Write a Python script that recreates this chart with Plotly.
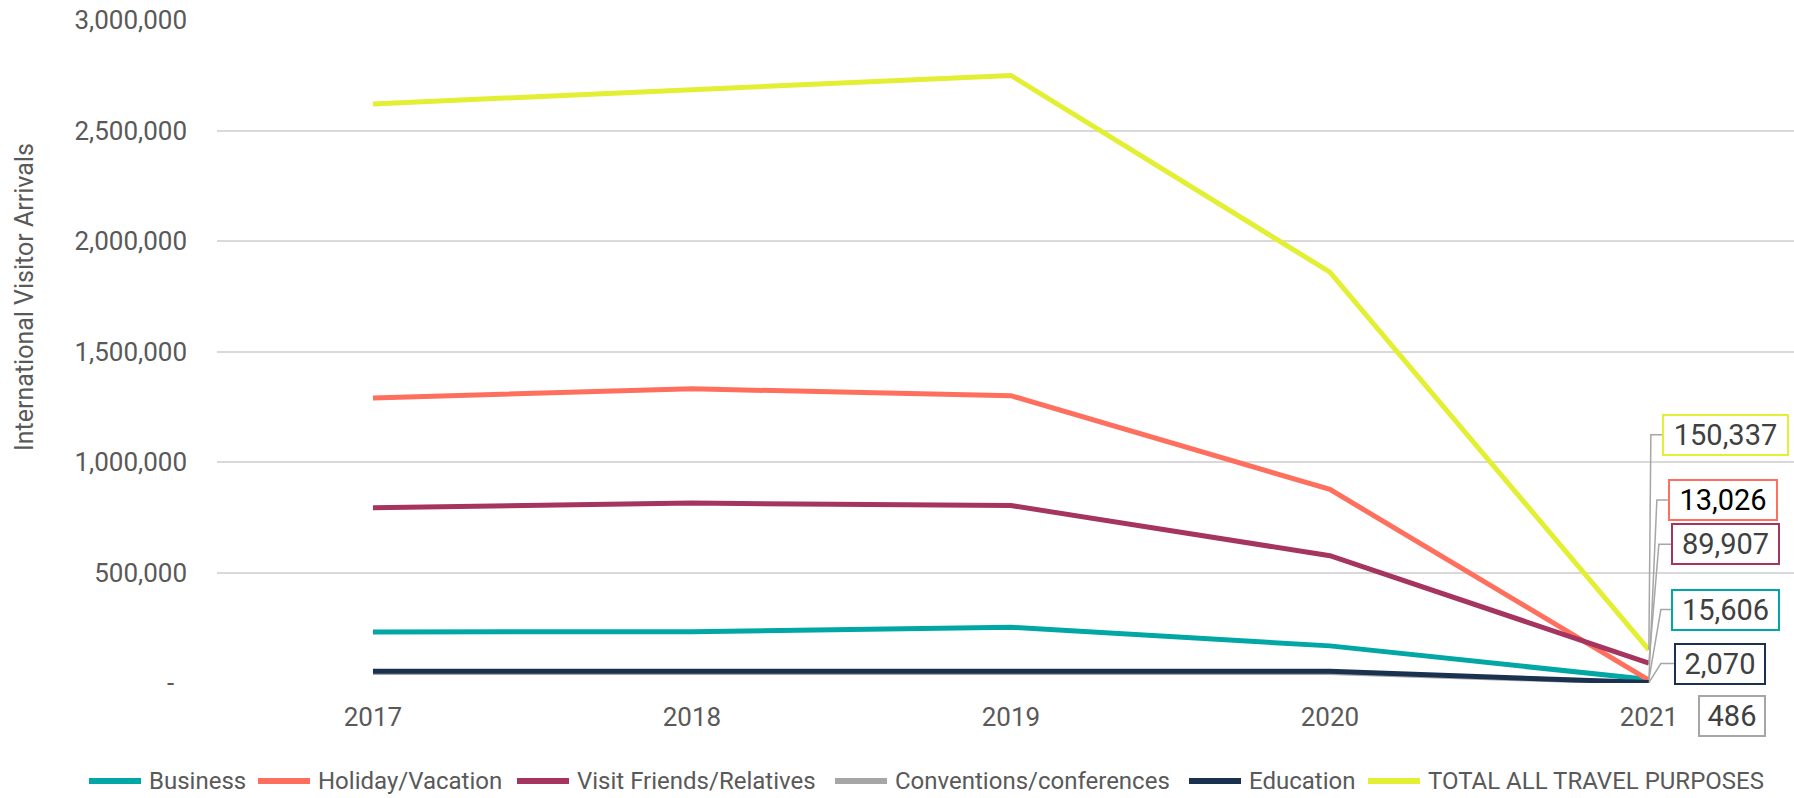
import plotly.graph_objects as go

# Visitor arrivals by travel purpose
years = ["2017", "2018", "2019", "2020", "2021"]
business = [231000, 232000, 252000, 168000, 15606]
holiday = [1290000, 1331000, 1300000, 876000, 13026]
visit_friends = [793000, 814000, 803000, 576000, 89907]
conventions = [47000, 48000, 50000, 47000, 486]
education = [53000, 54000, 56000, 53000, 2070]
total = [2620000, 2687000, 2749000, 1859000, 150337]

series_names = ["Business", "Holiday/Vacation", "Visit Friends/Relatives",
                "Conventions/conferences", "Education", "TOTAL ALL TRAVEL PURPOSES"]
series_values = [business, holiday, visit_friends, conventions, education, total]
series_colors = ["#00A7A5", "#FF6F5E", "#A5345F", "#A6A6A6", "#1B3150", "#E2EF32"]

y_ticks = [0, 500000, 1000000, 1500000, 2000000, 2500000, 3000000]
y_tick_text = ["-\u00a0\u00a0", "500,000", "1,000,000", "1,500,000",
               "2,000,000", "2,500,000", "3,000,000"]

FONT = "Roboto"
GREY_TEXT = "#595959"
LEADER = "#A6A6A6"

W, H = 1794, 798
ML, MR, MT, MB = 217, 0, 20, 115
PW, PH = W - ML - MR, H - MT - MB


def px_to_paper_x(px):
    return (px - ML) / PW


def px_to_paper_y(py):
    return (H - MB - py) / PH


fig = go.Figure()
for name, vals, col in zip(series_names, series_values, series_colors):
    fig.add_trace(go.Scatter(
        x=years, y=vals, name=name, mode="lines",
        line=dict(color=col, width=5),
        cliponaxis=False, showlegend=False,
    ))

# Data labels for the final year, each offset (px) from its point,
# with an elbow leader line back to the point.
label_specs = [
    # values, border colour, text colour, (dx, dy) box centre, box w, leader path
    (total, "#E2EF32", "#404040", (77, 215), 127, "M 0,0 L 2,215 L 14,215"),
    (holiday, "#FF6F5E", "#000000", (74, 180), 110, "M 0,0 L 8,180 L 19,180"),
    (visit_friends, "#A5345F", "#404040", (77, 119), 109, "M 0,0 L 10,119 L 23,119"),
    (business, "#00A7A5", "#404040", (77, 70), 109, "M 0,0 L 12,70 L 23,70"),
    (education, "#1B3150", "#404040", (71, 19), 92, "M 0,0 L 12,19 L 25,19"),
    (conventions, "#A6A6A6", "#404040", (83, -33), 68, "M 0,0 L 37,-33 L 49,-33"),
]

shapes = []
annotations = []
last = len(years) - 1
for vals, bcol, tcol, (dx, dy), bw, path in label_specs:
    v = vals[last]
    shapes.append(dict(
        type="path", xref="x", yref="y",
        xsizemode="pixel", ysizemode="pixel",
        xanchor=last, yanchor=v, path=path,
        line=dict(color=LEADER, width=1.5),
    ))
    annotations.append(dict(
        x=last, y=v, xref="x", yref="y",
        text=f"{v:,}", showarrow=False,
        xanchor="center", yanchor="middle",
        xshift=dx, yshift=dy,
        font=dict(family=FONT, size=29, color=tcol),
        bgcolor="white", bordercolor=bcol, borderwidth=2,
        borderpad=2, width=bw - 8, height=34, align="center",
    ))

# Axis title
annotations.append(dict(
    text="International Visitor Arrivals", textangle=-90,
    xref="paper", yref="paper", x=px_to_paper_x(24), y=px_to_paper_y(297),
    xanchor="center", yanchor="middle", showarrow=False,
    font=dict(family=FONT, size=25, color=GREY_TEXT),
))

# Legend row along the bottom: swatch start (px) for each entry
legend_x = [87, 256, 515, 833, 1187, 1366]
LEG_Y = 781
SWATCH = 56
for name, col, lx in zip(series_names, series_colors, legend_x):
    shapes.append(dict(
        type="line", xref="paper", yref="paper",
        x0=px_to_paper_x(lx + 2), x1=px_to_paper_x(lx + SWATCH - 2),
        y0=px_to_paper_y(LEG_Y), y1=px_to_paper_y(LEG_Y),
        line=dict(color=col, width=6),
    ))
    annotations.append(dict(
        text=name, xref="paper", yref="paper",
        x=px_to_paper_x(lx + SWATCH + 4), y=px_to_paper_y(LEG_Y),
        xanchor="left", yanchor="middle", showarrow=False,
        font=dict(family=FONT, size=24, color=GREY_TEXT),
    ))

fig.update_layout(
    width=W, height=H,
    margin=dict(l=ML, r=MR, t=MT, b=MB),
    paper_bgcolor="white", plot_bgcolor="white",
    font=dict(family=FONT, size=24, color=GREY_TEXT),
    showlegend=False,
    xaxis=dict(
        type="category", range=[-0.489, 4.455],
        showgrid=False, zeroline=False, showline=False,
        ticks="", ticklabelstandoff=16,
        tickfont=dict(family=FONT, size=26, color=GREY_TEXT),
    ),
    yaxis=dict(
        range=[0, 3000000], tickvals=y_ticks, ticktext=y_tick_text,
        showgrid=True, gridcolor="#D9D9D9", gridwidth=1.5,
        zeroline=False, showline=False, ticks="",
        ticklabelstandoff=29,
        tickfont=dict(family=FONT, size=26, color=GREY_TEXT),
    ),
    shapes=shapes,
    annotations=annotations,
)

fig.write_html("out.html")
